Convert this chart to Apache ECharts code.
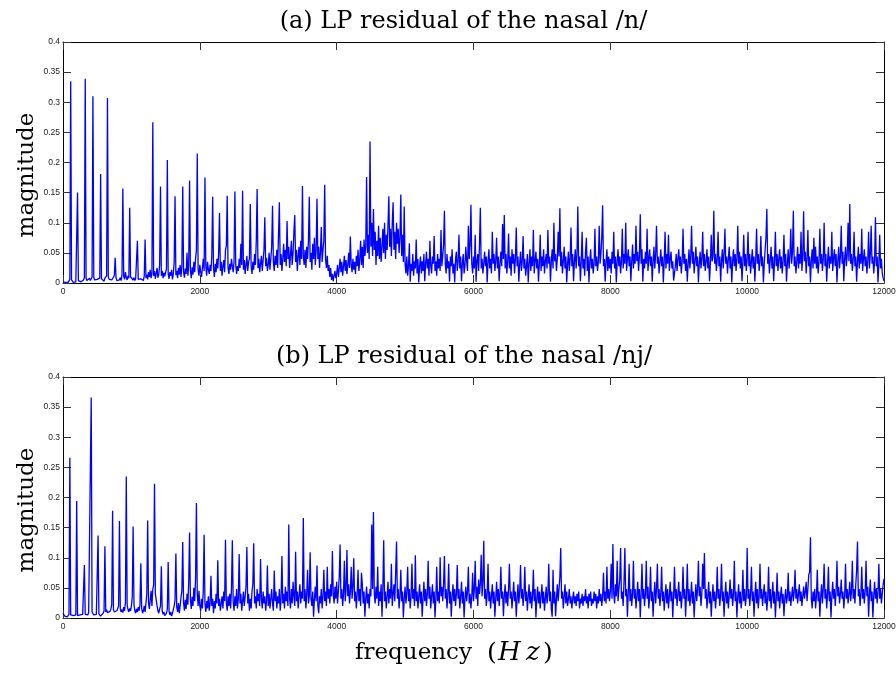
<!DOCTYPE html>
<html><head><meta charset="utf-8">
<script src="https://cdn.jsdelivr.net/npm/echarts@6/dist/echarts.min.js"></script>
<style>html,body{margin:0;padding:0;background:#fff}#c{width:896px;height:673px}</style>
</head><body><div id="c"></div>
<script>
const titles = ['(a) LP residual of the nasal /n/', '(b) LP residual of the nasal /nj/'];
const yLabel = 'magnitude';
const xLabelWord = 'frequency';
const xUnitLetters = ['H', 'z'];
const binHz = 12.5;          // spectral resolution: 40 bins per 500 Hz row
const rowHz = 500;
const xMin = 0, xMax = 12000, xStep = 2000;
const yMin = 0, yMax = 0.4, yStep = 0.05;

// (a) /n/ : one row per 500 Hz (40 bins of 12.5 Hz), last row = 12000 Hz
const magA = [
[0.002,0.001,0.002,0.001,0.001,0.002,0.001,0.003,0.006,0.335,0.005,0.002,0.001,0.002,0.003,0.002,0.005,0.150,0.004,0.002,0.003,0.002,0.004,0.003,0.005,0.009,0.339,0.008,0.004,0.006,0.005,0.008,0.004,0.007,0.010,0.310,0.009,0.005,0.007,0.004],
[0.006,0.009,0.005,0.008,0.181,0.007,0.004,0.006,0.003,0.008,0.005,0.012,0.307,0.010,0.006,0.004,0.008,0.005,0.003,0.007,0.012,0.042,0.009,0.004,0.007,0.002,0.005,0.009,0.004,0.014,0.157,0.011,0.006,0.018,0.009,0.005,0.012,0.008,0.125,0.010],
[0.007,0.013,0.005,0.009,0.004,0.008,0.011,0.070,0.006,0.009,0.003,0.007,0.005,0.010,0.004,0.012,0.072,0.008,0.014,0.006,0.018,0.010,0.022,0.008,0.015,0.267,0.012,0.020,0.007,0.016,0.025,0.009,0.014,0.030,0.160,0.012,0.020,0.008,0.017,0.011],
[0.009,0.024,0.204,0.015,0.007,0.018,0.012,0.022,0.006,0.015,0.035,0.144,0.013,0.020,0.008,0.025,0.014,0.030,0.010,0.028,0.160,0.018,0.009,0.024,0.015,0.050,0.012,0.030,0.170,0.020,0.008,0.026,0.014,0.035,0.018,0.040,0.055,0.215,0.022,0.012],
[0.030,0.018,0.010,0.025,0.040,0.020,0.175,0.028,0.012,0.035,0.022,0.015,0.030,0.020,0.045,0.143,0.025,0.010,0.032,0.018,0.040,0.024,0.050,0.116,0.020,0.035,0.012,0.028,0.038,0.018,0.055,0.062,0.145,0.025,0.015,0.032,0.022,0.040,0.028,0.018],
[0.035,0.152,0.030,0.015,0.028,0.020,0.040,0.025,0.065,0.030,0.153,0.022,0.038,0.015,0.030,0.045,0.020,0.035,0.040,0.131,0.028,0.015,0.035,0.022,0.048,0.030,0.070,0.156,0.025,0.040,0.018,0.032,0.045,0.020,0.038,0.055,0.109,0.028,0.042,0.020],
[0.030,0.050,0.022,0.040,0.060,0.128,0.035,0.020,0.045,0.030,0.055,0.025,0.080,0.134,0.030,0.048,0.020,0.040,0.065,0.035,0.055,0.028,0.103,0.040,0.060,0.025,0.045,0.070,0.030,0.050,0.085,0.113,0.035,0.055,0.020,0.045,0.060,0.030,0.070,0.040],
[0.161,0.045,0.030,0.055,0.025,0.060,0.040,0.070,0.143,0.035,0.050,0.022,0.065,0.040,0.075,0.030,0.055,0.140,0.040,0.060,0.025,0.050,0.093,0.035,0.055,0.070,0.163,0.040,0.025,0.045,0.020,0.030,0.010,0.025,0.005,0.015,0.003,0.012,0.020,0.008],
[0.015,0.030,0.010,0.025,0.040,0.018,0.035,0.012,0.028,0.045,0.020,0.038,0.015,0.030,0.050,0.025,0.077,0.030,0.018,0.040,0.022,0.035,0.015,0.045,0.028,0.055,0.020,0.040,0.070,0.030,0.060,0.025,0.072,0.045,0.060,0.176,0.050,0.080,0.040,0.235],
[0.060,0.100,0.045,0.123,0.055,0.085,0.030,0.070,0.045,0.095,0.040,0.075,0.035,0.060,0.090,0.050,0.100,0.040,0.080,0.055,0.095,0.144,0.060,0.090,0.045,0.100,0.134,0.055,0.085,0.040,0.100,0.065,0.090,0.050,0.075,0.147,0.045,0.080,0.035,0.127],
[0.032,0.016,0.044,0.012,0.028,0.066,0.002,0.032,0.020,0.048,0.012,0.036,0.024,0.072,0.016,0.040,0.001,0.028,0.044,0.016,0.036,0.020,0.048,0.003,0.032,0.052,0.024,0.040,0.012,0.070,0.028,0.016,0.044,0.032,0.078,0.020,0.036,0.012,0.048,0.024],
[0.040,0.020,0.088,0.028,0.044,0.064,0.120,0.032,0.016,0.048,0.024,0.036,0.002,0.044,0.028,0.056,0.016,0.032,0.001,0.040,0.052,0.020,0.036,0.080,0.024,0.044,0.003,0.032,0.048,0.016,0.028,0.060,0.036,0.020,0.095,0.040,0.064,0.130,0.032,0.016],
[0.044,0.024,0.080,0.002,0.036,0.048,0.020,0.064,0.125,0.024,0.040,0.016,0.032,0.052,0.028,0.044,0.001,0.036,0.056,0.024,0.040,0.016,0.085,0.032,0.048,0.020,0.036,0.075,0.024,0.044,0.003,0.032,0.052,0.028,0.098,0.040,0.113,0.024,0.048,0.016],
[0.036,0.082,0.024,0.044,0.012,0.056,0.032,0.048,0.016,0.040,0.092,0.028,0.044,0.002,0.032,0.052,0.020,0.036,0.078,0.024,0.040,0.012,0.028,0.048,0.001,0.032,0.056,0.020,0.044,0.028,0.088,0.016,0.036,0.052,0.024,0.040,0.002,0.032,0.080,0.020],
[0.044,0.028,0.056,0.016,0.036,0.048,0.024,0.088,0.032,0.044,0.002,0.036,0.056,0.024,0.100,0.036,0.048,0.020,0.040,0.085,0.044,0.124,0.028,0.052,0.016,0.036,0.060,0.024,0.044,0.001,0.032,0.052,0.020,0.040,0.092,0.028,0.048,0.003,0.036,0.056],
[0.024,0.048,0.127,0.028,0.044,0.003,0.036,0.085,0.024,0.040,0.012,0.052,0.075,0.020,0.044,0.001,0.036,0.056,0.024,0.040,0.016,0.032,0.090,0.028,0.044,0.020,0.036,0.095,0.032,0.048,0.076,0.129,0.028,0.040,0.002,0.036,0.056,0.020,0.044,0.024],
[0.040,0.016,0.052,0.032,0.085,0.024,0.044,0.001,0.036,0.056,0.028,0.044,0.016,0.036,0.090,0.024,0.048,0.032,0.100,0.020,0.040,0.056,0.028,0.044,0.003,0.036,0.064,0.024,0.048,0.032,0.095,0.036,0.052,0.020,0.044,0.114,0.032,0.056,0.002,0.040],
[0.024,0.052,0.032,0.090,0.020,0.040,0.056,0.028,0.044,0.002,0.036,0.060,0.024,0.048,0.095,0.032,0.044,0.016,0.036,0.056,0.028,0.044,0.001,0.036,0.085,0.024,0.048,0.032,0.080,0.020,0.040,0.052,0.024,0.036,0.004,0.002,0.028,0.048,0.020,0.040],
[0.056,0.028,0.044,0.016,0.036,0.090,0.032,0.048,0.020,0.040,0.002,0.032,0.056,0.024,0.044,0.095,0.032,0.052,0.016,0.036,0.060,0.028,0.044,0.001,0.032,0.052,0.024,0.040,0.085,0.028,0.048,0.020,0.036,0.056,0.024,0.044,0.003,0.032,0.080,0.036],
[0.044,0.120,0.032,0.048,0.020,0.040,0.085,0.028,0.044,0.002,0.036,0.056,0.024,0.048,0.090,0.032,0.044,0.016,0.040,0.060,0.024,0.044,0.001,0.036,0.056,0.028,0.048,0.020,0.040,0.095,0.032,0.052,0.024,0.044,0.003,0.036,0.080,0.028,0.048,0.020],
[0.040,0.085,0.028,0.048,0.016,0.036,0.056,0.024,0.044,0.002,0.040,0.090,0.032,0.048,0.020,0.036,0.078,0.028,0.044,0.001,0.032,0.056,0.076,0.123,0.032,0.048,0.016,0.040,0.060,0.024,0.044,0.003,0.036,0.085,0.028,0.048,0.020,0.040,0.056,0.024],
[0.044,0.016,0.036,0.080,0.028,0.048,0.002,0.032,0.056,0.024,0.044,0.090,0.032,0.052,0.120,0.028,0.044,0.016,0.036,0.060,0.024,0.048,0.032,0.085,0.020,0.044,0.119,0.036,0.052,0.016,0.040,0.088,0.028,0.044,0.001,0.036,0.056,0.024,0.075,0.032],
[0.060,0.024,0.044,0.016,0.036,0.090,0.032,0.048,0.020,0.040,0.100,0.028,0.048,0.002,0.036,0.060,0.024,0.044,0.032,0.085,0.020,0.040,0.056,0.028,0.048,0.001,0.036,0.060,0.024,0.044,0.095,0.032,0.052,0.003,0.040,0.060,0.028,0.048,0.100,0.036],
[0.131,0.032,0.048,0.020,0.040,0.085,0.028,0.044,0.002,0.036,0.060,0.024,0.048,0.032,0.090,0.020,0.040,0.056,0.028,0.044,0.016,0.036,0.085,0.024,0.048,0.095,0.032,0.044,0.016,0.036,0.109,0.028,0.044,0.001,0.032,0.080,0.024,0.040,0.016,0.008],
[0.003]
];

// (b) /nj/ : one row per 500 Hz (40 bins of 12.5 Hz), last row = 12000 Hz
const magB = [
[0.008,0.005,0.003,0.002,0.003,0.002,0.004,0.006,0.266,0.005,0.003,0.002,0.004,0.003,0.002,0.005,0.194,0.004,0.003,0.002,0.005,0.003,0.004,0.006,0.008,0.088,0.006,0.004,0.007,0.005,0.009,0.006,0.012,0.366,0.010,0.007,0.005,0.008,0.004,0.006],
[0.009,0.137,0.007,0.005,0.003,0.006,0.004,0.008,0.012,0.119,0.010,0.014,0.009,0.012,0.008,0.011,0.015,0.022,0.178,0.014,0.010,0.013,0.008,0.012,0.016,0.020,0.161,0.015,0.010,0.014,0.009,0.018,0.012,0.025,0.235,0.022,0.014,0.010,0.016,0.012],
[0.020,0.035,0.152,0.022,0.012,0.008,0.015,0.010,0.018,0.012,0.022,0.091,0.016,0.008,0.012,0.020,0.010,0.025,0.040,0.162,0.025,0.015,0.030,0.045,0.020,0.048,0.055,0.223,0.040,0.030,0.020,0.012,0.008,0.015,0.020,0.086,0.012,0.006,0.010,0.004],
[0.003,0.008,0.015,0.093,0.012,0.005,0.010,0.003,0.008,0.014,0.020,0.030,0.107,0.018,0.010,0.025,0.008,0.020,0.035,0.045,0.126,0.025,0.012,0.030,0.015,0.040,0.022,0.060,0.142,0.030,0.015,0.035,0.020,0.050,0.028,0.065,0.191,0.040,0.020,0.045],
[0.020,0.012,0.032,0.016,0.044,0.138,0.024,0.010,0.028,0.016,0.036,0.012,0.024,0.070,0.020,0.032,0.008,0.028,0.016,0.040,0.024,0.096,0.020,0.032,0.012,0.024,0.036,0.016,0.044,0.028,0.130,0.024,0.012,0.036,0.020,0.040,0.016,0.048,0.129,0.028],
[0.012,0.036,0.020,0.048,0.016,0.032,0.106,0.024,0.040,0.012,0.028,0.044,0.020,0.036,0.052,0.118,0.024,0.040,0.012,0.032,0.016,0.044,0.056,0.124,0.024,0.036,0.016,0.048,0.028,0.040,0.020,0.098,0.032,0.016,0.044,0.024,0.036,0.012,0.028,0.087],
[0.020,0.040,0.016,0.032,0.048,0.024,0.012,0.079,0.028,0.044,0.016,0.036,0.024,0.048,0.012,0.032,0.103,0.024,0.040,0.016,0.052,0.028,0.044,0.020,0.155,0.032,0.016,0.048,0.024,0.060,0.036,0.020,0.110,0.028,0.044,0.016,0.036,0.056,0.024,0.044],
[0.032,0.166,0.028,0.048,0.016,0.040,0.080,0.024,0.036,0.109,0.032,0.020,0.044,0.002,0.032,0.052,0.028,0.087,0.020,0.008,0.036,0.024,0.048,0.016,0.036,0.080,0.028,0.044,0.020,0.085,0.032,0.048,0.024,0.056,0.036,0.111,0.040,0.024,0.052,0.032],
[0.060,0.024,0.044,0.068,0.122,0.032,0.048,0.020,0.040,0.095,0.028,0.048,0.113,0.036,0.056,0.024,0.044,0.085,0.032,0.052,0.099,0.028,0.044,0.016,0.040,0.080,0.028,0.048,0.020,0.075,0.056,0.024,0.044,0.002,0.032,0.052,0.024,0.040,0.016,0.048],
[0.036,0.155,0.048,0.176,0.040,0.024,0.052,0.032,0.085,0.020,0.044,0.028,0.056,0.002,0.048,0.129,0.028,0.044,0.016,0.036,0.060,0.024,0.048,0.032,0.090,0.020,0.040,0.056,0.028,0.076,0.127,0.032,0.048,0.016,0.036,0.080,0.028,0.044,0.001,0.032],
[0.052,0.024,0.044,0.085,0.028,0.048,0.016,0.036,0.090,0.032,0.048,0.020,0.104,0.028,0.044,0.016,0.036,0.056,0.024,0.044,0.002,0.032,0.060,0.028,0.048,0.020,0.040,0.095,0.032,0.052,0.016,0.036,0.056,0.024,0.044,0.001,0.032,0.085,0.028,0.044],
[0.024,0.101,0.036,0.052,0.028,0.056,0.103,0.032,0.048,0.016,0.040,0.090,0.024,0.044,0.002,0.036,0.056,0.028,0.048,0.020,0.040,0.088,0.032,0.048,0.016,0.036,0.060,0.024,0.044,0.001,0.032,0.052,0.028,0.044,0.085,0.024,0.040,0.016,0.036,0.075],
[0.028,0.048,0.095,0.032,0.052,0.020,0.064,0.040,0.056,0.105,0.036,0.060,0.128,0.032,0.048,0.020,0.040,0.090,0.028,0.044,0.016,0.036,0.056,0.024,0.044,0.002,0.032,0.060,0.028,0.048,0.020,0.040,0.085,0.032,0.044,0.003,0.036,0.056,0.024,0.044],
[0.020,0.048,0.090,0.032,0.044,0.016,0.036,0.060,0.028,0.044,0.002,0.032,0.056,0.024,0.044,0.088,0.032,0.048,0.020,0.040,0.085,0.028,0.044,0.012,0.036,0.056,0.024,0.044,0.016,0.036,0.080,0.028,0.048,0.001,0.032,0.052,0.024,0.044,0.016,0.036],
[0.056,0.024,0.044,0.012,0.032,0.052,0.024,0.040,0.090,0.028,0.044,0.016,0.002,0.080,0.024,0.044,0.003,0.032,0.056,0.028,0.048,0.068,0.116,0.032,0.044,0.016,0.036,0.056,0.024,0.044,0.020,0.032,0.048,0.024,0.036,0.016,0.032,0.044,0.024,0.036],
[0.020,0.040,0.028,0.044,0.016,0.032,0.024,0.040,0.020,0.036,0.028,0.048,0.024,0.036,0.016,0.040,0.028,0.044,0.020,0.032,0.024,0.044,0.028,0.040,0.016,0.036,0.024,0.048,0.028,0.040,0.020,0.036,0.075,0.028,0.044,0.024,0.085,0.032,0.048,0.028],
[0.044,0.090,0.032,0.123,0.040,0.024,0.056,0.036,0.095,0.028,0.048,0.064,0.116,0.032,0.044,0.020,0.060,0.116,0.036,0.048,0.002,0.044,0.090,0.028,0.048,0.020,0.040,0.095,0.032,0.048,0.016,0.036,0.060,0.028,0.048,0.001,0.040,0.090,0.032,0.048],
[0.020,0.040,0.095,0.032,0.052,0.016,0.036,0.085,0.028,0.044,0.002,0.036,0.060,0.024,0.048,0.090,0.032,0.048,0.020,0.040,0.085,0.028,0.044,0.012,0.036,0.056,0.024,0.048,0.016,0.036,0.060,0.028,0.044,0.001,0.036,0.085,0.032,0.048,0.020,0.040],
[0.060,0.028,0.044,0.016,0.036,0.085,0.032,0.048,0.002,0.040,0.090,0.028,0.048,0.020,0.036,0.060,0.024,0.044,0.001,0.032,0.056,0.028,0.048,0.095,0.036,0.052,0.020,0.040,0.090,0.048,0.108,0.032,0.048,0.016,0.036,0.060,0.024,0.044,0.002,0.032],
[0.056,0.028,0.044,0.016,0.036,0.085,0.032,0.048,0.020,0.040,0.090,0.028,0.044,0.002,0.036,0.060,0.024,0.044,0.016,0.036,0.064,0.032,0.048,0.020,0.040,0.095,0.028,0.044,0.001,0.036,0.056,0.024,0.044,0.016,0.032,0.080,0.028,0.048,0.020,0.036],
[0.116,0.032,0.048,0.020,0.040,0.085,0.028,0.044,0.002,0.036,0.060,0.024,0.048,0.016,0.036,0.090,0.032,0.048,0.020,0.040,0.056,0.024,0.044,0.012,0.032,0.085,0.028,0.048,0.016,0.036,0.060,0.024,0.044,0.001,0.032,0.075,0.028,0.044,0.016,0.036],
[0.052,0.024,0.040,0.003,0.032,0.048,0.024,0.036,0.075,0.028,0.044,0.020,0.036,0.052,0.028,0.044,0.080,0.032,0.048,0.024,0.040,0.056,0.028,0.044,0.020,0.036,0.052,0.032,0.044,0.060,0.028,0.048,0.072,0.076,0.134,0.032,0.016,0.044,0.028,0.048],
[0.016,0.036,0.080,0.028,0.044,0.002,0.036,0.056,0.024,0.048,0.090,0.032,0.048,0.016,0.040,0.085,0.028,0.044,0.001,0.036,0.060,0.032,0.048,0.020,0.044,0.095,0.036,0.052,0.024,0.040,0.064,0.032,0.044,0.016,0.036,0.090,0.032,0.048,0.024,0.040],
[0.060,0.028,0.044,0.095,0.032,0.048,0.024,0.056,0.080,0.127,0.036,0.048,0.020,0.040,0.085,0.032,0.048,0.024,0.044,0.095,0.036,0.052,0.002,0.040,0.064,0.028,0.044,0.001,0.036,0.060,0.032,0.048,0.024,0.044,0.090,0.032,0.048,0.024,0.040,0.056],
[0.065]
];

function toPoints(rows) {
  const pts = [];
  rows.forEach((row, r) => row.forEach((v, j) => pts.push([r * rowHz + j * binHz, v])));
  return pts;
}

const chart = echarts.init(document.getElementById('c'), null, {renderer: 'canvas'});
const grids = [
  {left: 63, top: 42, width: 821, height: 241, containLabel: false, outerBoundsMode: 'none'},
  {left: 63, top: 377, width: 821, height: 241, containLabel: false, outerBoundsMode: 'none'}
];
const tickFont = {fontSize: 8.5, fontFamily: 'Liberation Sans, Arial, sans-serif', color: '#222'};
const axLine = {show: true, onZero: false, lineStyle: {color: '#000', width: 1}};
const tickStyle = {show: true, inside: true, length: 8, lineStyle: {color: '#333', width: 1}};
const xAxes = [], yAxes = [], series = [];
[magA, magB].forEach((rows, i) => {
  xAxes.push({type: 'value', gridIndex: i, position: 'bottom', min: xMin, max: xMax, interval: xStep,
    axisLine: axLine, axisTick: tickStyle, splitLine: {show: false},
    axisLabel: Object.assign({margin: 4, formatter: v => String(v), showMinLabel: true, showMaxLabel: true}, tickFont)});
  xAxes.push({type: 'value', gridIndex: i, position: 'top', min: xMin, max: xMax, interval: xStep,
    axisLine: axLine, axisTick: tickStyle, splitLine: {show: false}, axisLabel: {show: false}});
  yAxes.push({type: 'value', gridIndex: i, position: 'left', min: yMin, max: yMax, interval: yStep,
    axisLine: axLine, axisTick: tickStyle, splitLine: {show: false},
    axisLabel: Object.assign({margin: 3, formatter: v => v === 0 ? '0' : String(+v.toFixed(2))}, tickFont)});
  yAxes.push({type: 'value', gridIndex: i, position: 'right', min: yMin, max: yMax, interval: yStep,
    axisLine: axLine, axisTick: tickStyle, splitLine: {show: false}, axisLabel: {show: false}});
  series.push({type: 'line', xAxisIndex: 2 * i, yAxisIndex: 2 * i, showSymbol: false, symbol: 'none',
    sampling: null, clip: true, animation: false,
    lineStyle: {color: '#0000ff', width: 1.3}, itemStyle: {color: '#0000ff'},
    data: toPoints(rows)});
});

const serif = 'DejaVu Serif, serif';
function txt(x, y, text, font, align, extra) {
  return Object.assign({type: 'text', x, y, silent: true,
    style: {text, font, fill: '#000', textAlign: align || 'center', textVerticalAlign: 'middle'}}, extra || {});
}
const graphic = [
  txt(463.5, 22, titles[0], '24px ' + serif),
  txt(464, 357, titles[1], '24px ' + serif),
  txt(27, 175, yLabel, '23px ' + serif, 'center', {rotation: Math.PI / 2}),
  txt(27, 510, yLabel, '23px ' + serif, 'center', {rotation: Math.PI / 2}),
  txt(355, 653, xLabelWord, '23px ' + serif, 'left'),
  txt(487, 653, '(', '25px ' + serif, 'left'),
  txt(498, 653, xUnitLetters[0], 'italic 26px ' + serif, 'left'),
  txt(526, 653, xUnitLetters[1], 'italic 26px ' + serif, 'left'),
  txt(543, 653, ')', '25px ' + serif, 'left')
];

chart.setOption({
  animation: false,
  backgroundColor: '#fff',
  grid: grids,
  xAxis: xAxes,
  yAxis: yAxes,
  series,
  graphic
});
</script>
</body></html>
